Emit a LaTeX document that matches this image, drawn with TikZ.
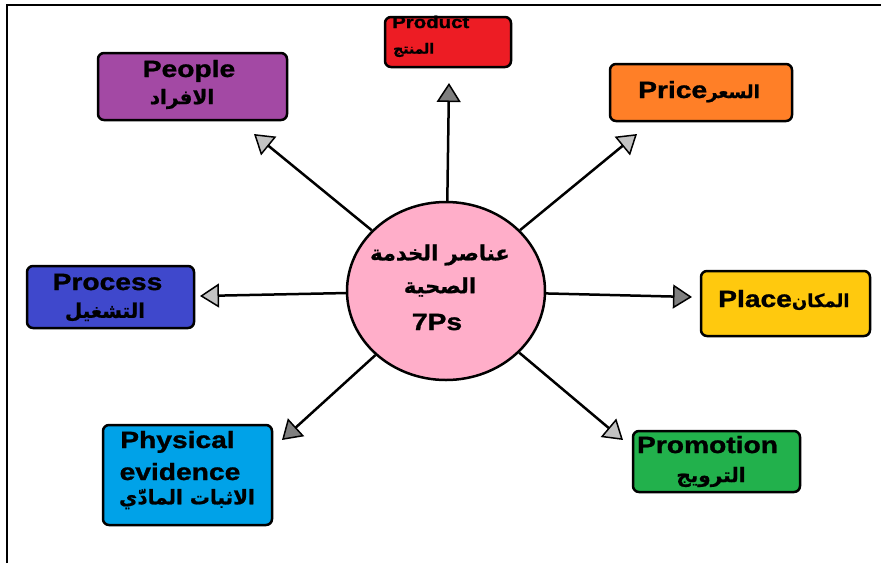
\documentclass[tikz,border=0pt]{standalone}
\usepackage{fontspec}
\usetikzlibrary{arrows.meta,shapes.geometric}
\TeXXeTstate=1
\newfontfamily\latfont[FakeStretch=1.2, BoldFeatures={FakeBold=1.2}]{Liberation Sans}
\newfontfamily\arabicfont[Script=Arabic, BoldFeatures={FakeBold=0.8}]{DejaVu Sans}
\newcommand{\artxt}[1]{{\arabicfont\bfseries\beginR #1\endR}}
\definecolor{cred}{HTML}{ED1C24}
\definecolor{cpurple}{HTML}{A349A4}
\definecolor{corange}{HTML}{FF7F27}
\definecolor{cblue}{HTML}{3F48CC}
\definecolor{cyellow}{HTML}{FFC90E}
\definecolor{clblue}{HTML}{00A2E8}
\definecolor{cgreen}{HTML}{22B14C}
\definecolor{cpink}{HTML}{FFAEC9}
\definecolor{lgray}{HTML}{C3C3C3}
\definecolor{dgray}{HTML}{7F7F7F}
\tikzset{
  box/.style={draw=black, line width=2.5pt, rounded corners=6pt, inner sep=0pt},
  lat/.style={font=\latfont\bfseries\fontsize{23.5}{26}\selectfont, inner sep=0pt},
  arab/.style={font=\arabicfont\bfseries\fontsize{20}{24}\selectfont, inner sep=0pt},
  spoke/.style={line width=2.5pt, -{Triangle[length=19pt,width=24pt,line width=1.5pt,fill=#1]}}
}
\begin{document}
\begin{tikzpicture}[x=1pt,y=-1pt]
\useasboundingbox (0,0) rectangle (881,563);
\draw[line width=2pt] (7,563) -- (7,5) -- (881,5);
% boxes
\node[box, fill=cred, minimum width=126pt, minimum height=50pt] (product) at (448,42) {};
\node[box, fill=cpurple, minimum width=189pt, minimum height=67pt] (people) at (192.5,86.5) {};
\node[box, fill=corange, minimum width=182pt, minimum height=57pt] (price) at (701,92.5) {};
\node[box, fill=cblue, minimum width=167pt, minimum height=62pt] (process) at (110.5,297) {};
\node[box, fill=cyellow, minimum width=169pt, minimum height=65pt] (place) at (785.5,303.5) {};
\node[box, fill=clblue, minimum width=169pt, minimum height=100pt] (physical) at (187.5,475) {};
\node[box, fill=cgreen, minimum width=167pt, minimum height=61pt] (promotion) at (716.5,461.5) {};
\node[draw=black, line width=2.5pt, fill=cpink, ellipse, minimum width=198pt, minimum height=178pt, inner sep=0pt] (core) at (446,291) {};
% texts
\node[lat, font=\latfont\bfseries\fontsize{17}{20}\selectfont, anchor=base west] (t1) at (392,28) {Product};
\node[arab, font=\arabicfont\bfseries\fontsize{14}{16}\selectfont, anchor=west] (a1) at (393,50) {\artxt{المنتج}};
\node[lat, anchor=base] (t2) at (189,77) {People};
\node[arab, anchor=center] (a2) at (182,99) {\artxt{الافراد}};
\node[lat, anchor=base west] (t3) at (638,98) {Price{\fontsize{18}{20}\selectfont\artxt{السعر}}};
\node[lat, anchor=base] (t4) at (107.5,290) {Process};
\node[arab] (a4) at (105,312) {\artxt{التشغيل}};
\node[lat, anchor=base west] (t5) at (718,307) {Place{\fontsize{18}{20}\selectfont\artxt{المكان}}};
\node[lat, anchor=base] (t6) at (177.5,448) {Physical};
\node[lat, anchor=base] (t6b) at (180,480) {evidence};
\node[arab] (a6) at (187,499) {\artxt{الاثبات المادّي}};
\node[lat, anchor=base] (t7) at (707.5,453) {Promotion};
\node[arab] (a7) at (711,477) {\artxt{الترويج}};
\node[arab, font=\arabicfont\bfseries\fontsize{21}{24}\selectfont] (c1) at (440,255) {\artxt{عناصر الخدمة}};
\node[arab, font=\arabicfont\bfseries\fontsize{21}{24}\selectfont] (c2) at (440,287) {\artxt{الصحية}};
\node[lat, anchor=base] (c3) at (437,330) {7Ps};
% spokes
\coordinate (pTop) at (449,83);
\coordinate (pPeople) at (254,134);
\coordinate (pPrice) at (637,134);
\coordinate (pProcess) at (200,296);
\coordinate (pPlace) at (692,297);
\coordinate (pPhys) at (282,440);
\coordinate (pProm) at (623,440);
\draw[spoke=dgray] (core) -- (pTop);
\draw[spoke=lgray] (core) -- (pPeople);
\draw[spoke=lgray] (core) -- (pPrice);
\draw[spoke=lgray] (core) -- (pProcess);
\draw[spoke=dgray] (core) -- (pPlace);
\draw[spoke=dgray] (core) -- (pPhys);
\draw[spoke=lgray] (core) -- (pProm);
\end{tikzpicture}
\end{document}
